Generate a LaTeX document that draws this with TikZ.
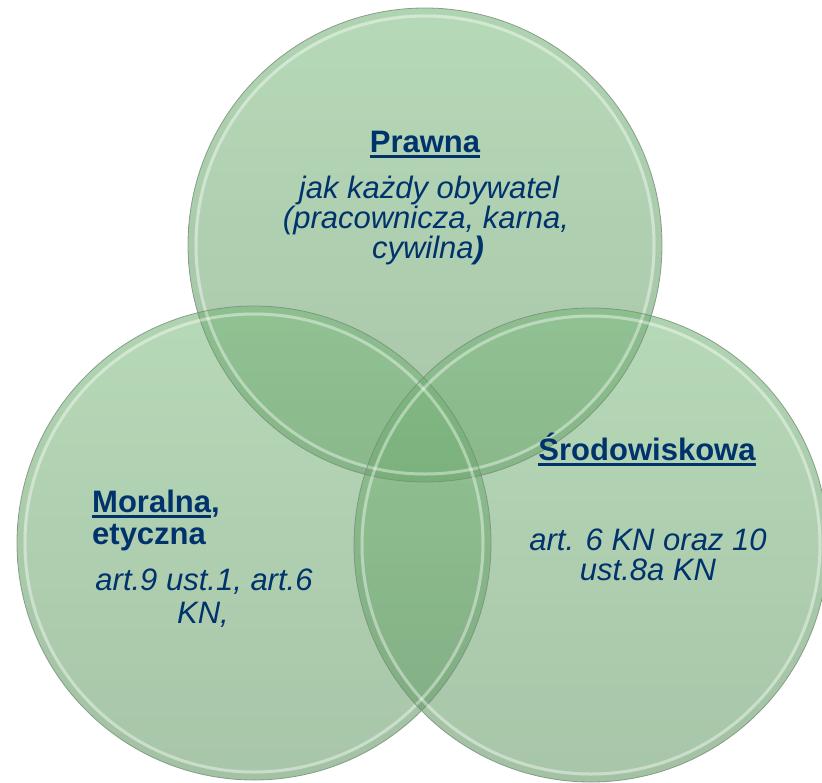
\documentclass[tikz,border=0pt]{standalone}
\usepackage{fontspec}
\setmainfont{Liberation Sans}
\definecolor{navy}{RGB}{0,50,108}
\definecolor{gtop}{RGB}{122,186,124}
\definecolor{gbot}{RGB}{96,150,98}
\definecolor{rim}{RGB}{120,140,122}
\newcommand\myul[1]{\vtop{\hbox{#1}\kern3pt\hrule height 3pt}}
\tikzset{
  venn/.style={top color=gtop, bottom color=gbot, fill opacity=0.55, draw=none},
  vennrim/.style={draw=rim, line width=0.8pt, draw opacity=0.8},
  vennglow/.style={draw=white, line width=3pt, draw opacity=0.4},
  vennband/.style={draw=gbot, line width=6pt, draw opacity=0.07},
  txt/.style={text=navy, inner sep=0pt, font=\fontsize{31}{31}\selectfont\itshape, anchor=base},
  ttl/.style={text=navy, inner sep=0pt, font=\fontsize{31}{31}\selectfont\bfseries, anchor=base}
}
\begin{document}
\begin{tikzpicture}[x=1pt,y=-1pt]
\useasboundingbox (0,0) rectangle (822,782);
\begin{scope}
\clip (0,0) rectangle (822,782);
% circles
\foreach \cx/\cy in {425/245, 254/543, 591/545}{
  \path[venn] (\cx,\cy) circle[radius=237];
}
\foreach \cx/\cy in {425/245, 254/543, 591/545}{
  \draw[vennband] (\cx,\cy) circle[radius=234];
  \draw[vennglow] (\cx,\cy) circle[radius=229];
  \draw[vennrim] (\cx,\cy) circle[radius=237];
}
\end{scope}
% top circle text
\node[ttl] (prawna) at (425,152) {\myul{Prawna}};
\node[txt] (p1) at (429,198) {jak każdy obywatel};
\node[txt] (p2) at (426,228) {(pracownicza, karna,};
\node[txt] (p3) at (428,258) {cywilna\textbf{)}};
% left circle text
\node[ttl, anchor=base west] (moralna) at (92,512) {\myul{Moralna},};
\node[ttl, anchor=base west] (etyczna) at (92,544) {etyczna};
\node[txt] (m1) at (204,590) {art.9 ust.1, art.6};
\node[txt] (m2) at (203,623) {KN,};
% right circle text
\node[ttl] (srod) at (647,460) {\myul{Środowiskowa}};
\node[txt] (s1) at (648,550) {art. 6 KN oraz 10};
\node[txt] (s2) at (648,580) {ust.8a KN};
\end{tikzpicture}
\end{document}
